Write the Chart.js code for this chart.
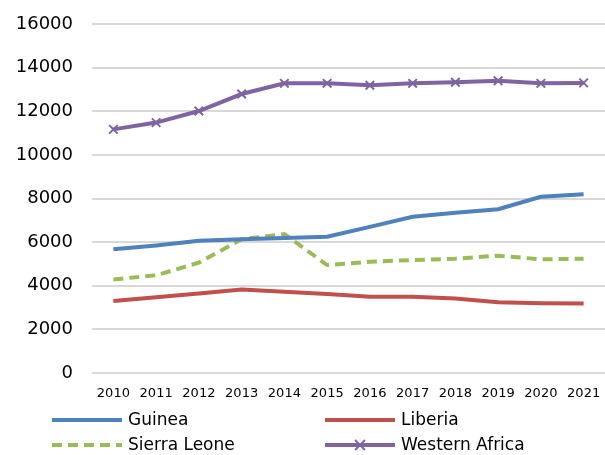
<!DOCTYPE html>
<html>
<head>
<meta charset="utf-8">
<script src="https://cdn.jsdelivr.net/npm/chart.js@4/dist/chart.umd.min.js"></script>
<style>
html,body{margin:0;padding:0;background:#fff;}
#wrap{width:605px;height:455px;position:relative;}
</style>
</head>
<body>
<div id="wrap"><canvas id="c" width="605" height="455"></canvas></div>
<script>
const categories = ["2010","2011","2012","2013","2014","2015","2016","2017","2018","2019","2020","2021"];
const guinea = [5670,5850,6060,6130,6190,6250,6700,7160,7350,7510,8080,8200];
const liberia = [3300,3470,3650,3830,3730,3620,3500,3490,3420,3240,3200,3185];
const sierraLeone = [4290,4480,5060,6130,6370,4950,5100,5180,5240,5380,5210,5240];
const westernAfrica = [11170,11480,12010,12790,13280,13280,13190,13280,13330,13400,13280,13300];
const yTicks = [0,2000,4000,6000,8000,10000,12000,14000,16000];

const FONT = "'DejaVu Sans', sans-serif";

const legendPlugin = {
  id: 'gridLegend',
  afterDraw(chart) {
    const ctx = chart.ctx;
    const ds = chart.data.datasets;
    const cols = [52, 325];
    const rows = [420, 445];
    ctx.save();
    ds.forEach((d, i) => {
      const x = cols[i % 2], y = rows[Math.floor(i / 2)];
      ctx.strokeStyle = d.borderColor;
      ctx.lineWidth = 4;
      ctx.setLineDash(d.borderDash || []);
      ctx.beginPath();
      ctx.moveTo(x, y);
      ctx.lineTo(x + 70, y);
      ctx.stroke();
      ctx.setLineDash([]);
      if (d.pointStyle === 'crossRot') {
        ctx.lineWidth = 2;
        const cx = x + 35, r = 5;
        ctx.beginPath();
        ctx.moveTo(cx - r, y - r); ctx.lineTo(cx + r, y + r);
        ctx.moveTo(cx - r, y + r); ctx.lineTo(cx + r, y - r);
        ctx.stroke();
      }
      ctx.fillStyle = '#000';
      ctx.font = '17px ' + FONT;
      ctx.textBaseline = 'middle';
      ctx.textAlign = 'left';
      ctx.fillText(d.label, x + 76, y + 1);
    });
    ctx.restore();
  }
};

new Chart(document.getElementById('c'), {
  type: 'line',
  data: {
    labels: categories,
    datasets: [
      { label: 'Guinea', data: guinea, borderColor: '#4F81BD', borderWidth: 4, pointRadius: 0, tension: 0 },
      { label: 'Liberia', data: liberia, borderColor: '#C0504D', borderWidth: 4, pointRadius: 0, tension: 0 },
      { label: 'Sierra Leone', data: sierraLeone, borderColor: '#9BBB59', borderWidth: 4, borderDash: [10, 6], pointRadius: 0, tension: 0 },
      { label: 'Western Africa', data: westernAfrica, borderColor: '#8064A2', borderWidth: 4, pointStyle: 'crossRot', pointRadius: 6, pointBorderWidth: 2, pointBorderColor: '#8064A2', pointBackgroundColor: '#8064A2', tension: 0 }
    ]
  },
  options: {
    responsive: false,
    animation: false,
    layout: { autoPadding: false, padding: { top: 24, left: 16, right: 0, bottom: 52 } },
    plugins: { legend: { display: false }, tooltip: { enabled: false }, title: { display: false } },
    scales: {
      x: {
        offset: true,
        grid: { display: false },
        border: { display: false },
        ticks: { color: '#000', font: { family: FONT, size: 13 }, maxRotation: 0, autoSkip: false, padding: 5 },
        afterFit(axis) { axis.height = 30; axis.paddingLeft = 0; axis.paddingRight = 0; }
      },
      y: {
        min: 0, max: 16000,
        afterBuildTicks(axis) { axis.ticks = yTicks.map(v => ({ value: v })); },
        grid: { color: '#D9D9D9', lineWidth: 2, drawTicks: false },
        border: { display: false },
        ticks: { color: '#000', font: { family: FONT, size: 18 }, padding: 19, callback: v => String(v) },
        afterFit(axis) { axis.width = 76; axis.paddingTop = 0; axis.paddingBottom = 0; }
      }
    }
  },
  plugins: [legendPlugin]
});
</script>
</body>
</html>
